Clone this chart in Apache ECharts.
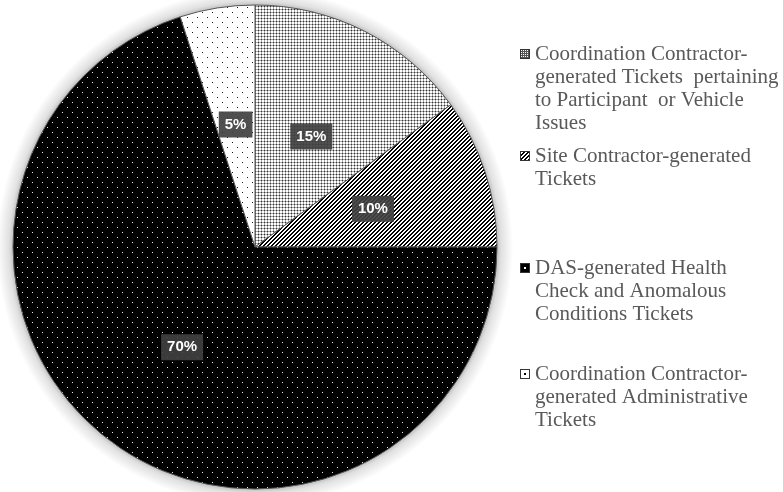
<!DOCTYPE html>
<html><head><meta charset="utf-8">
<script src="https://cdn.jsdelivr.net/npm/echarts@6/dist/echarts.min.js"></script>
<style>html,body{margin:0;padding:0;background:#fff}#c{width:783px;height:492px}</style>
</head><body><div id="c"></div>
<script>
const categories = [
  'Coordination Contractor-generated Tickets pertaining to Participant or Vehicle Issues',
  'Site Contractor-generated Tickets',
  'DAS-generated Health Check and Anomalous Conditions Tickets',
  'Coordination Contractor-generated Administrative Tickets'
];
const values = [15, 10, 70, 5];
const legendLines = [
  ['Coordination Contractor-', 'generated Tickets  pertaining', 'to Participant  or Vehicle', 'Issues'],
  ['Site Contractor-generated', 'Tickets'],
  ['DAS-generated Health', 'Check and Anomalous', 'Conditions Tickets'],
  ['Coordination Contractor-', 'generated Administrative', 'Tickets']
];

function tile(w, h, fn) {
  const c = document.createElement('canvas');
  c.width = w; c.height = h;
  const ctx = c.getContext('2d');
  fn(ctx, w, h);
  return c;
}
function px(ctx, x, y, col) { ctx.fillStyle = col; ctx.fillRect(x, y, 1, 1); }

// slice patterns
const pGrid = tile(3, 3, (ctx) => {
  ctx.fillStyle = '#fff'; ctx.fillRect(0, 0, 3, 3);
  px(ctx, 1, 0, '#a8a8a8'); px(ctx, 2, 0, '#a8a8a8');
  px(ctx, 0, 1, '#a8a8a8'); px(ctx, 0, 2, '#a8a8a8');
  px(ctx, 0, 0, '#333');
});
const pHatch = tile(4, 4, (ctx) => {
  ctx.fillStyle = '#fff'; ctx.fillRect(0, 0, 4, 4);
  for (let x = 0; x < 4; x++) for (let y = 0; y < 4; y++) {
    if ((x + y) % 4 < 2) px(ctx, x, y, '#000');
  }
});
const pBlackDots = tile(10, 10, (ctx) => {
  ctx.fillStyle = '#000'; ctx.fillRect(0, 0, 10, 10);
  px(ctx, 2, 2, '#e8e8e8'); px(ctx, 7, 7, '#e8e8e8');
});
const pWhiteDots = tile(10, 10, (ctx) => {
  ctx.fillStyle = '#fff'; ctx.fillRect(0, 0, 10, 10);
  px(ctx, 2, 2, '#111'); px(ctx, 7, 7, '#111');
});
// legend icon tiles (with border)
function iconTile(inner) {
  return tile(10, 10, (ctx) => {
    inner(ctx);
    ctx.strokeStyle = '#333'; ctx.lineWidth = 1; ctx.strokeRect(0.5, 0.5, 9, 9);
  });
}
const iGrid = iconTile((ctx) => {
  ctx.fillStyle = '#fff'; ctx.fillRect(0, 0, 10, 10);
  for (let x = 0; x < 10; x++) for (let y = 0; y < 10; y++) {
    if (x % 2 === 0 || y % 2 === 0) px(ctx, x, y, '#555');
  }
});
const iHatch = iconTile((ctx) => {
  ctx.fillStyle = '#fff'; ctx.fillRect(0, 0, 10, 10);
  for (let x = 0; x < 10; x++) for (let y = 0; y < 10; y++) {
    if ((x + y) % 4 < 2) px(ctx, x, y, '#000');
  }
});
const iBlack = iconTile((ctx) => {
  ctx.fillStyle = '#000'; ctx.fillRect(0, 0, 10, 10);
  ctx.fillStyle = '#fff'; ctx.fillRect(4, 4, 2, 2);
});
const iWhite = iconTile((ctx) => {
  ctx.fillStyle = '#fff'; ctx.fillRect(0, 0, 10, 10);
  ctx.fillStyle = '#000'; ctx.fillRect(4, 4, 2, 2);
});

const slicePatterns = [pGrid, pHatch, pBlackDots, pWhiteDots];
const iconPatterns = [iGrid, iHatch, iBlack, iWhite];

const LH = 23;
const iconCenters = [54, 156, 268, 374];

const legends = categories.map((name, i) => {
  const n = legendLines[i].length;
  return {
    show: true,
    selectedMode: false,
    orient: 'vertical',
    left: 520,
    top: iconCenters[i] - (2 * n - 1) * LH / 2,
    padding: 0,
    icon: 'rect',
    itemWidth: 10,
    itemHeight: 10,
    data: [{ name: name, itemStyle: { color: { image: iconPatterns[i], repeat: 'repeat' }, borderWidth: 0 } }],
    formatter: () => '\n'.repeat(n - 1) + legendLines[i].join('\n'),
    textStyle: {
      fontFamily: 'Liberation Serif',
      fontSize: 21,
      color: '#595959',
      lineHeight: LH
    }
  };
});

const R = 242, HALO = 16;
const chart = echarts.init(document.getElementById('c'), null, { renderer: 'canvas' });
chart.setOption({
  animation: false,
  backgroundColor: '#fff',
  legend: legends,
  graphic: [{
    type: 'circle',
    silent: true,
    z: 0,
    shape: { cx: 255, cy: 247, r: R + HALO },
    style: {
      fill: {
        type: 'radial', x: 0.5, y: 0.5, r: 0.5,
        colorStops: [
          { offset: 0, color: 'rgba(0,0,0,0.3)' },
          { offset: (R - 2) / (R + HALO), color: 'rgba(0,0,0,0.3)' },
          { offset: (R + 4) / (R + HALO), color: 'rgba(0,0,0,0.12)' },
          { offset: 1, color: 'rgba(0,0,0,0)' }
        ]
      }
    }
  }],
  series: [
    {
      type: 'pie',
      z: 2,
      center: [255, 247],
      radius: R,
      startAngle: 90,
      clockwise: true,
      emphasis: { disabled: true },
      itemStyle: { borderColor: '#555', borderWidth: 1 },
      label: {
        show: true,
        position: 'inside',
        formatter: '{c}%',
        color: '#fff',
        fontFamily: 'Liberation Sans',
        fontWeight: 'bold',
        fontSize: 15,
        backgroundColor: 'rgba(64,64,64,0.92)',
        padding: [6, 6, 5, 6]
      },
      labelLine: { show: false },
      data: categories.map((name, i) => ({
        name: name,
        value: values[i],
        itemStyle: { color: { image: slicePatterns[i], repeat: 'repeat' } }
      }))
    }
  ]
});
</script>
</body></html>
